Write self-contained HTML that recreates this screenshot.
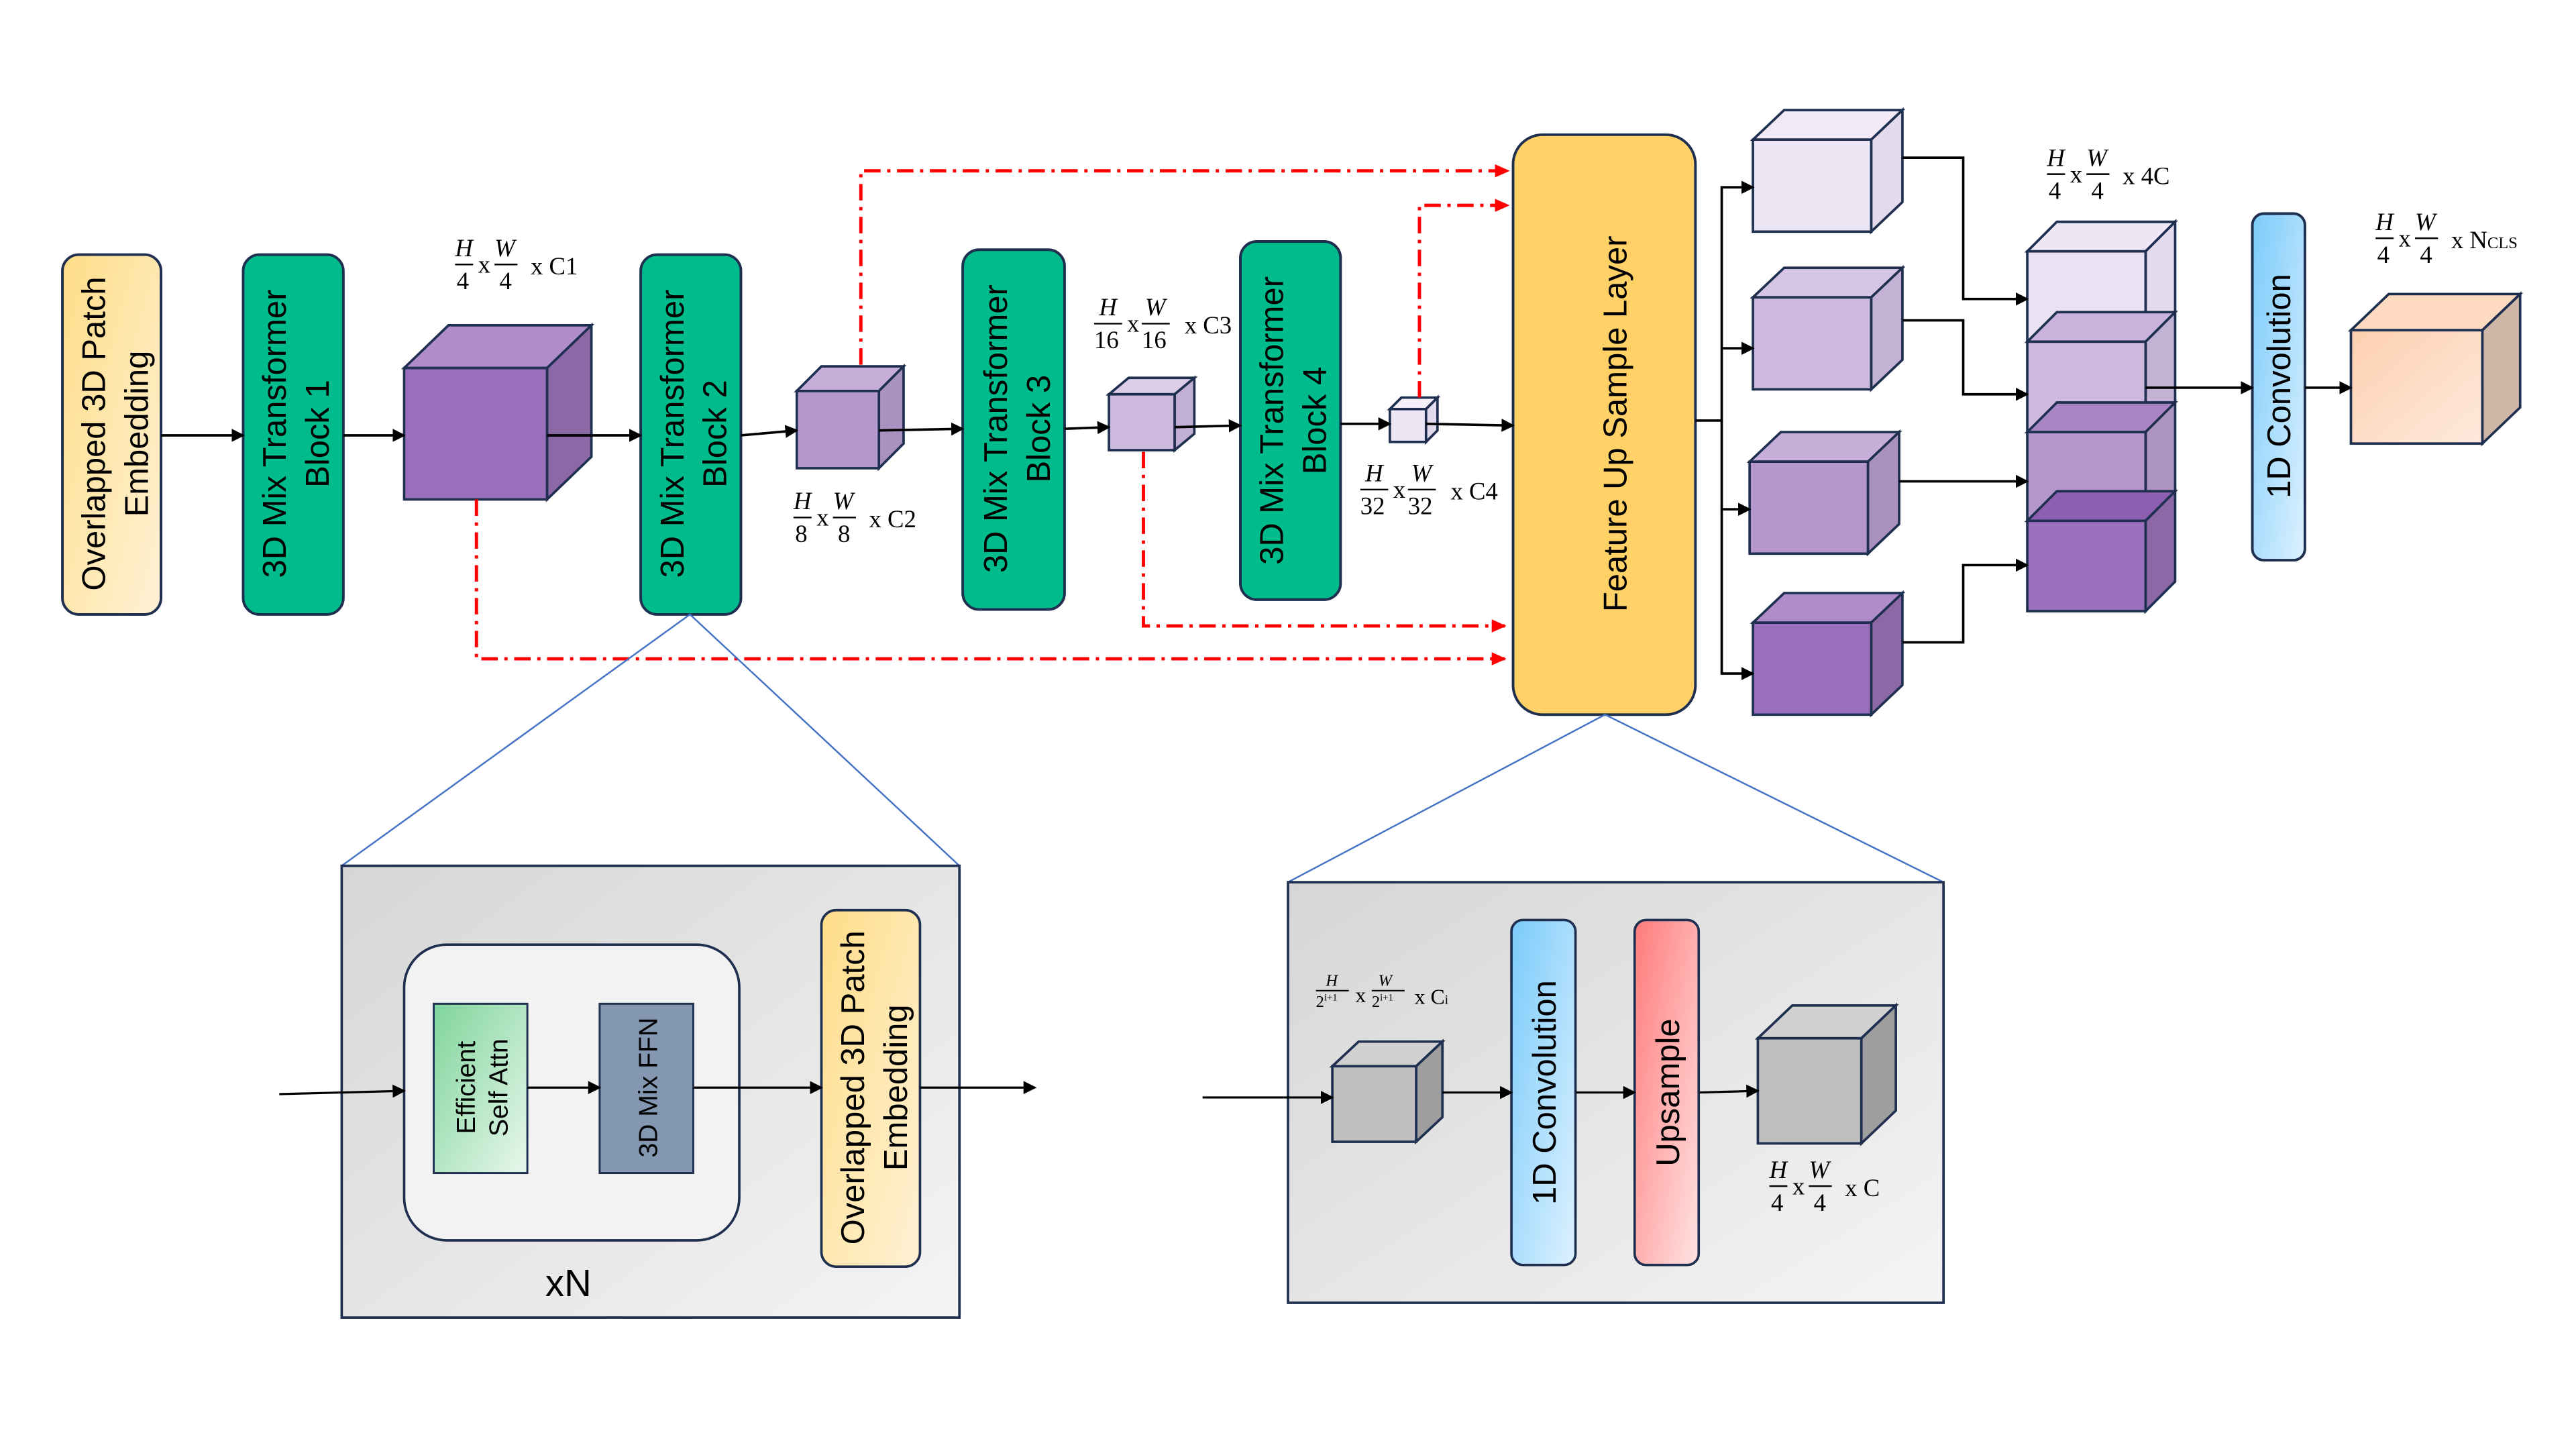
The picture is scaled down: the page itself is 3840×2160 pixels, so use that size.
<!DOCTYPE html>
<html><head><meta charset="utf-8"><style>html,body{margin:0;padding:0;background:#fff}svg{display:block}</style></head><body>
<svg width="3840" height="2160" viewBox="0 0 1568 882" preserveAspectRatio="none" xmlns="http://www.w3.org/2000/svg" font-family="Liberation Sans, sans-serif">
<defs>
<linearGradient id="yel" x1="0" y1="0" x2="1" y2="1"><stop offset="0" stop-color="#FFDD88"/><stop offset="1" stop-color="#FFF1D6"/></linearGradient>
<linearGradient id="blu" x1="0" y1="0" x2="1" y2="1"><stop offset="0" stop-color="#7ACBFA"/><stop offset="1" stop-color="#DDF1FF"/></linearGradient>
<linearGradient id="red" x1="0" y1="0" x2="1" y2="1"><stop offset="0" stop-color="#FF7A7A"/><stop offset="1" stop-color="#FFE3E3"/></linearGradient>
<linearGradient id="grn" x1="0" y1="0" x2="1" y2="1"><stop offset="0" stop-color="#7FD49A"/><stop offset="1" stop-color="#E8F7EC"/></linearGradient>
<linearGradient id="gray" x1="0" y1="0" x2="1" y2="1"><stop offset="0" stop-color="#D6D6D6"/><stop offset="1" stop-color="#F4F4F4"/></linearGradient>
<linearGradient id="pch" x1="0" y1="0" x2="1" y2="1"><stop offset="0" stop-color="#FDD0B0"/><stop offset="1" stop-color="#FEE9DC"/></linearGradient>
<marker id="ah" markerWidth="8" markerHeight="8" refX="7" refY="4" orient="auto" markerUnits="userSpaceOnUse"><path d="M0,0 L8,4 L0,8z" fill="#000"/></marker>
<marker id="ahr" markerWidth="9" markerHeight="8" refX="8" refY="4" orient="auto" markerUnits="userSpaceOnUse"><path d="M0,0 L9,4 L0,8z" fill="#f00"/></marker>
</defs>
<g stroke="#1F2F50" stroke-width="1.6">
<rect x="38" y="155" width="60" height="219" rx="10" fill="url(#yel)"/>
<rect x="148" y="155" width="61" height="219" rx="10" fill="#00BC8C"/>
<rect x="390" y="155" width="61" height="219" rx="10" fill="#00BC8C"/>
<rect x="586" y="152" width="62" height="219" rx="10" fill="#00BC8C"/>
<rect x="755" y="147" width="61" height="218" rx="10" fill="#00BC8C"/>
<rect x="921" y="82" width="111" height="353" rx="18" fill="#FFD166"/>
<rect x="1371" y="130" width="32" height="211" rx="7" fill="url(#blu)"/>
</g>
<g font-size="20" fill="#000" text-anchor="middle">
<text transform="translate(68,264) rotate(-90)"><tspan x="0" dy="-4">Overlapped 3D Patch</tspan><tspan x="0" dy="26">Embedding</tspan></text>
<text transform="translate(178,264) rotate(-90)"><tspan x="0" dy="-4">3D Mix Transformer</tspan><tspan x="0" dy="26">Block 1</tspan></text>
<text transform="translate(420,264) rotate(-90)"><tspan x="0" dy="-4">3D Mix Transformer</tspan><tspan x="0" dy="26">Block 2</tspan></text>
<text transform="translate(617,261) rotate(-90)"><tspan x="0" dy="-4">3D Mix Transformer</tspan><tspan x="0" dy="26">Block 3</tspan></text>
<text transform="translate(785,256) rotate(-90)"><tspan x="0" dy="-4">3D Mix Transformer</tspan><tspan x="0" dy="26">Block 4</tspan></text>
<text transform="translate(983,258) rotate(-90)" dy="7">Feature Up Sample Layer</text>
<text transform="translate(1387,235) rotate(-90)" dy="7">1D Convolution</text>
</g>
<g stroke="#1F2F50" stroke-width="1.5">
<polygon points="246,224 273,198 360,198 333,224" fill="#B08DC8"/><polygon points="333,224 360,198 360,278 333,304" fill="#8C69A6"/><rect x="246" y="224" width="87" height="80" fill="#9A6FBB"/>
<polygon points="485,238 500,223 550,223 535,238" fill="#C6AED9"/><polygon points="535,238 550,223 550,270 535,285" fill="#A991C0"/><rect x="485" y="238" width="50" height="47" fill="#B597CD"/>
<polygon points="675,240 687,230 727,230 715,240" fill="#DCCDE8"/><polygon points="715,240 727,230 727,264 715,274" fill="#C2B0D4"/><rect x="675" y="240" width="40" height="34" fill="#CDB8DE"/>
<polygon points="846,249 853,242 875,242 868,249" fill="#F3EEF8"/><polygon points="868,249 875,242 875,262 868,269" fill="#E2D9EC"/><rect x="846" y="249" width="22" height="20" fill="#EDE6F4"/>
<polygon points="1067,85 1086,67 1158,67 1139,85" fill="#F1EAF6"/><polygon points="1139,85 1158,67 1158,123 1139,141" fill="#E3DAEC"/><rect x="1067" y="85" width="72" height="56" fill="#EDE6F4"/>
<polygon points="1067,181 1086,163 1158,163 1139,181" fill="#D6C4E4"/><polygon points="1139,181 1158,163 1158,219 1139,237" fill="#C3B2D4"/><rect x="1067" y="181" width="72" height="56" fill="#CDB8DE"/>
<polygon points="1065,281 1084,263 1156,263 1137,281" fill="#C6AED9"/><polygon points="1137,281 1156,263 1156,319 1137,337" fill="#A991C0"/><rect x="1065" y="281" width="72" height="56" fill="#B597CD"/>
<polygon points="1067,379 1086,361 1158,361 1139,379" fill="#B08DC8"/><polygon points="1139,379 1158,361 1158,417 1139,435" fill="#8C69A6"/><rect x="1067" y="379" width="72" height="56" fill="#9A6FBB"/>
<polygon points="1234,153 1252,135 1324,135 1306,153" fill="#EDE6F4"/><polygon points="1306,153 1324,135 1324,190 1306,208" fill="#E3DAEC"/><rect x="1234" y="153" width="72" height="55" fill="#EAE2F2"/>
<polygon points="1234,208 1252,190 1324,190 1306,208" fill="#C9B2DC"/><polygon points="1306,208 1324,190 1324,245 1306,263" fill="#C3B2D4"/><rect x="1234" y="208" width="72" height="55" fill="#CDB8DE"/>
<polygon points="1234,263 1252,245 1324,245 1306,263" fill="#A985C4"/><polygon points="1306,263 1324,245 1324,299 1306,317" fill="#AD94C2"/><rect x="1234" y="263" width="72" height="54" fill="#B597CD"/>
<polygon points="1234,317 1252,299 1324,299 1306,317" fill="#8E5FB0"/><polygon points="1306,317 1324,299 1324,354 1306,372" fill="#8C69A6"/><rect x="1234" y="317" width="72" height="55" fill="#9A6FBB"/>
<polygon points="1431,201 1454,179 1534,179 1511,201" fill="#FDDAC0"/><polygon points="1511,201 1534,179 1534,248 1511,270" fill="#D0B6A6"/><rect x="1431" y="201" width="80" height="69" fill="url(#pch)"/>
</g>
<g stroke="#000" stroke-width="1.5" fill="none" marker-end="url(#ah)">
<line x1="98" y1="265" x2="148" y2="265"/>
<line x1="209" y1="265" x2="246" y2="265"/>
<line x1="333" y1="265" x2="390" y2="265"/>
<line x1="451" y1="265" x2="485" y2="262"/>
<line x1="535" y1="262" x2="586" y2="261"/>
<line x1="648" y1="261" x2="675" y2="260"/>
<line x1="715" y1="260" x2="755" y2="259"/>
<line x1="816" y1="258" x2="846" y2="258"/>
<line x1="868" y1="258" x2="921" y2="259"/>
<polyline points="1032,256 1048,256 1048,114 1067,114"/>
<polyline points="1048,212 1067,212"/>
<polyline points="1048,256 1048,310 1065,310"/>
<polyline points="1048,310 1048,410 1067,410"/>
<polyline points="1158,96 1195,96 1195,182 1234,182"/>
<polyline points="1158,195 1195,195 1195,240 1234,240"/>
<polyline points="1156,293 1234,293"/>
<polyline points="1158,391 1195,391 1195,344 1234,344"/>
<line x1="1306" y1="236" x2="1371" y2="236"/>
<line x1="1403" y1="236" x2="1431" y2="236"/>
</g>
<g stroke="#f00" stroke-width="2" fill="none" stroke-dasharray="10,4,2,4" marker-end="url(#ahr)">
<polyline points="524,222 524,104 918,104"/>
<polyline points="864,242 864,125 918,125"/>
<polyline points="696,275 696,381 916,381"/>
<polyline points="290,304 290,401 916,401"/>
</g>
<g stroke="#4472C4" stroke-width="1" fill="none">
<polyline points="208,527 420,374 584,527"/>
<polyline points="784,537 977,435 1183,537"/>
</g>
<rect x="208" y="527" width="376" height="275" fill="url(#gray)" stroke="#1F2F50" stroke-width="1.5"/>
<rect x="246" y="575" width="204" height="180" rx="26" fill="#F2F2F2" stroke="#1F2F50" stroke-width="1.5"/>
<rect x="264" y="611" width="57" height="103" fill="url(#grn)" stroke="#1F2F50" stroke-width="1.2"/>
<rect x="365" y="611" width="57" height="103" fill="#8497B0" stroke="#1F2F50" stroke-width="1.2"/>
<rect x="500" y="554" width="60" height="217" rx="9" fill="url(#yel)" stroke="#1F2F50" stroke-width="1.5"/>
<g font-size="16" fill="#000" text-anchor="middle">
<text transform="translate(292,662) rotate(-90)"><tspan x="0" dy="-3">Efficient</tspan><tspan x="0" dy="20">Self Attn</tspan></text>
<text transform="translate(394,662) rotate(-90)" dy="6">3D Mix FFN</text>
<text transform="translate(530,662) rotate(-90)" font-size="20"><tspan x="0" dy="-4">Overlapped 3D Patch</tspan><tspan x="0" dy="26">Embedding</tspan></text>
<text x="346" y="789" font-size="23">xN</text>
</g>
<g stroke="#000" stroke-width="1.3" fill="none" marker-end="url(#ah)">
<line x1="170" y1="666" x2="246" y2="664"/>
<line x1="321" y1="662" x2="365" y2="662"/>
<line x1="422" y1="662" x2="500" y2="662"/>
<line x1="560" y1="662" x2="630" y2="662"/>
</g>
<rect x="784" y="537" width="399" height="256" fill="url(#gray)" stroke="#1F2F50" stroke-width="1.5"/>
<rect x="920" y="560" width="39" height="210" rx="7" fill="url(#blu)" stroke="#1F2F50" stroke-width="1.5"/>
<rect x="995" y="560" width="39" height="210" rx="7" fill="url(#red)" stroke="#1F2F50" stroke-width="1.5"/>
<g font-size="20" fill="#000" text-anchor="middle">
<text transform="translate(940,665) rotate(-90)" dy="7">1D Convolution</text>
<text transform="translate(1015,665) rotate(-90)" dy="7">Upsample</text>
</g>
<g stroke="#1F2F50" stroke-width="1.5">
<polygon points="811,649 827,634 878,634 862,649" fill="#D0D0D0"/><polygon points="862,649 878,634 878,680 862,695" fill="#9E9E9E"/><rect x="811" y="649" width="51" height="46" fill="#BFBFBF"/>
<polygon points="1070,632 1091,612 1154,612 1133,632" fill="#D0D0D0"/><polygon points="1133,632 1154,612 1154,676 1133,696" fill="#9E9E9E"/><rect x="1070" y="632" width="63" height="64" fill="#BFBFBF"/>
</g>
<g stroke="#000" stroke-width="1.3" fill="none" marker-end="url(#ah)">
<line x1="732" y1="668" x2="811" y2="668"/>
<line x1="878" y1="665" x2="920" y2="665"/>
<line x1="959" y1="665" x2="995" y2="665"/>
<line x1="1034" y1="665" x2="1070" y2="664"/>
</g>
<!-- labels on top -->
<g font-family="Liberation Serif, serif" font-size="15" fill="#000">
<g transform="translate(277,144)"><text x="0" y="12" font-style="italic">H</text><line x1="0" y1="17" x2="11" y2="17" stroke="#000"/><text x="1" y="32">4</text><text x="14" y="22">x</text><text x="24" y="12" font-style="italic">W</text><line x1="24" y1="17" x2="38" y2="17" stroke="#000"/><text x="27" y="32">4</text><text x="46" y="23">x C1</text></g>
<g transform="translate(483,298)"><text x="0" y="12" font-style="italic">H</text><line x1="0" y1="17" x2="11" y2="17" stroke="#000"/><text x="1" y="32">8</text><text x="14" y="22">x</text><text x="24" y="12" font-style="italic">W</text><line x1="24" y1="17" x2="38" y2="17" stroke="#000"/><text x="27" y="32">8</text><text x="46" y="23">x C2</text></g>
<g transform="translate(666,180)"><text x="3" y="12" font-style="italic">H</text><line x1="0" y1="17" x2="17" y2="17" stroke="#000"/><text x="0" y="32">16</text><text x="20" y="22">x</text><text x="31" y="12" font-style="italic">W</text><line x1="29" y1="17" x2="46" y2="17" stroke="#000"/><text x="29" y="32">16</text><text x="55" y="23">x C3</text></g>
<g transform="translate(828,281)"><text x="3" y="12" font-style="italic">H</text><line x1="0" y1="17" x2="17" y2="17" stroke="#000"/><text x="0" y="32">32</text><text x="20" y="22">x</text><text x="31" y="12" font-style="italic">W</text><line x1="29" y1="17" x2="46" y2="17" stroke="#000"/><text x="29" y="32">32</text><text x="55" y="23">x C4</text></g>
<g transform="translate(1246,89)"><text x="0" y="12" font-style="italic">H</text><line x1="0" y1="17" x2="11" y2="17" stroke="#000"/><text x="1" y="32">4</text><text x="14" y="22">x</text><text x="24" y="12" font-style="italic">W</text><line x1="24" y1="17" x2="38" y2="17" stroke="#000"/><text x="27" y="32">4</text><text x="46" y="23">x 4C</text></g>
<g transform="translate(1446,128)"><text x="0" y="12" font-style="italic">H</text><line x1="0" y1="17" x2="11" y2="17" stroke="#000"/><text x="1" y="32">4</text><text x="14" y="22">x</text><text x="24" y="12" font-style="italic">W</text><line x1="24" y1="17" x2="38" y2="17" stroke="#000"/><text x="27" y="32">4</text><text x="46" y="23">x N<tspan font-size="10">CLS</tspan></text></g>
<g transform="translate(1077,705)"><text x="0" y="12" font-style="italic">H</text><line x1="0" y1="17" x2="11" y2="17" stroke="#000"/><text x="1" y="32">4</text><text x="14" y="22">x</text><text x="24" y="12" font-style="italic">W</text><line x1="24" y1="17" x2="38" y2="17" stroke="#000"/><text x="27" y="32">4</text><text x="46" y="23">x C</text></g>
<g transform="translate(801,592)" font-size="10"><text x="6" y="8" font-style="italic">H</text><line x1="0" y1="11" x2="20" y2="11" stroke="#000" stroke-width="0.8"/><text x="0" y="21">2<tspan font-size="6" dy="-4">i+1</tspan></text><text x="24" y="18" font-size="13">x</text><text x="38" y="8" font-style="italic">W</text><line x1="34" y1="11" x2="54" y2="11" stroke="#000" stroke-width="0.8"/><text x="34" y="21">2<tspan font-size="6" dy="-4">i+1</tspan></text><text x="60" y="19" font-size="13">x C<tspan font-size="8">i</tspan></text></g>
</g>
</svg>
</body></html>
